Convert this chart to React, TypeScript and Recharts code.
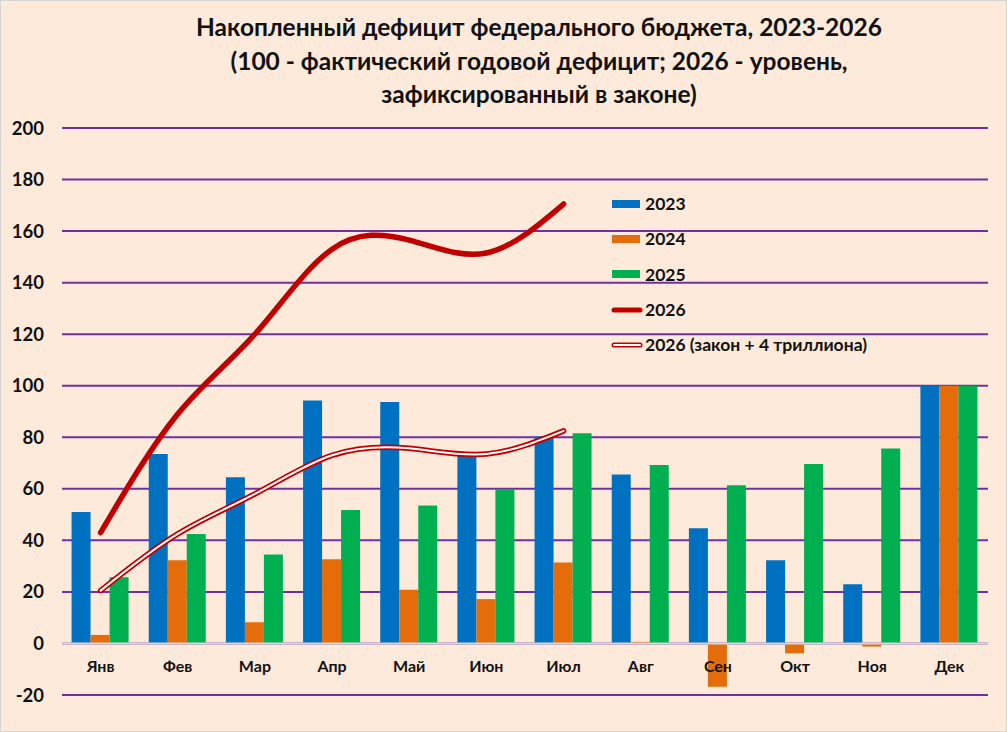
import { ComposedChart, Bar, Line, XAxis, YAxis, CartesianGrid, ReferenceLine } from 'recharts';

const months = ['Янв', 'Фев', 'Мар', 'Апр', 'Май', 'Июн', 'Июл', 'Авг', 'Сен', 'Окт', 'Ноя', 'Дек'];
const d2023 = [51, 73.5, 64.5, 94.3, 93.7, 72.7, 80.3, 65.6, 44.7, 32.3, 23, 100];
const d2024 = [3.3, 32.3, 8.2, 32.7, 20.8, 17.2, 31.4, 0.6, -16.8, -3.8, -1.2, 100];
const d2025 = [25.7, 42.5, 34.5, 51.8, 53.5, 59.9, 81.6, 69.2, 61.4, 69.6, 75.6, 100];
const d2026 = [43, 89, 120, 153, 156.5, 151.5, 170.5, null, null, null, null, null];
const d2026law = [20.5, 42.5, 58, 73, 75.7, 73.5, 82.5, null, null, null, null, null];
const yTicks = [-20, 0, 20, 40, 60, 80, 100, 120, 140, 160, 180, 200];

const data = months.map((m, i) => ({
    name: m,
    y2023: d2023[i],
    y2024: d2024[i],
    y2025: d2025[i],
    y2026: d2026[i],
    law: d2026law[i],
}));

const FONT = 'Lato, "Open Sans", sans-serif';

const legendItems = [
    { label: '2023', kind: 'bar', color: '#0070C0' },
    { label: '2024', kind: 'bar', color: '#E46C0A' },
    { label: '2025', kind: 'bar', color: '#00B050' },
    { label: '2026', kind: 'line', color: '#C00000' },
    { label: '2026 (закон + 4 триллиона)', kind: 'double', color: '#C00000' },
];

function MonthTick(props: any) {
    const { x, y, payload } = props;
    return (
        <text x={x} y={y} dy={-31} textAnchor="middle" fill="#111" fontSize={16} fontWeight={700} fontFamily={FONT}>
            {payload.value}
        </text>
    );
}

export default function App() {
    return (
        <div
            style={{
                position: 'relative',
                width: 1007,
                height: 732,
                boxSizing: 'border-box',
                border: '1px solid #D4D4D4',
                background: '#FDEADA',
                fontFamily: FONT,
            }}
        >
            <style>{'body{margin:0}'}</style>
            <div
                style={{
                    position: 'absolute',
                    left: 0,
                    width: 1076,
                    top: 9,
                    textAlign: 'center',
                    fontSize: 24.5,
                    fontWeight: 700,
                    lineHeight: '33.5px',
                    color: '#111',
                }}
            >
                Накопленный дефицит федерального бюджета, 2023-2026
                <br />
                (100 - фактический годовой дефицит; 2026 - уровень,
                <br />
                зафиксированный в законе)
            </div>
            <ComposedChart
                width={1005}
                height={730}
                data={data}
                margin={{ top: 127, right: 18, bottom: 0, left: 0 }}
                barCategoryGap="12.4%"
                barGap={0}
            >
                <CartesianGrid vertical={false} stroke="#7030A0" strokeWidth={2} />
                <XAxis
                    dataKey="name"
                    axisLine={false}
                    tickLine={false}
                    height={36}
                    interval={0}
                    tick={<MonthTick />}
                />
                <YAxis
                    domain={[-20, 200]}
                    ticks={yTicks}
                    width={61}
                    axisLine={false}
                    tickLine={false}
                    tickMargin={12}
                    tick={{ fill: '#111', fontSize: 18.5, fontWeight: 700, fontFamily: FONT }}
                />
                <ReferenceLine y={0} stroke="#D9D9D9" strokeWidth={2} />
                <Bar dataKey="y2023" fill="#0070C0" isAnimationActive={false} />
                <Bar dataKey="y2024" fill="#E46C0A" isAnimationActive={false} />
                <Bar dataKey="y2025" fill="#00B050" isAnimationActive={false} />
                <Line
                    dataKey="y2026"
                    type="natural"
                    stroke="#C00000"
                    strokeWidth={5.5}
                    strokeLinecap="round"
                    dot={false}
                    isAnimationActive={false}
                />
                <Line
                    dataKey="law"
                    type="natural"
                    stroke="#C00000"
                    strokeWidth={5.5}
                    strokeLinecap="round"
                    dot={false}
                    isAnimationActive={false}
                />
                <Line
                    dataKey="law"
                    type="natural"
                    stroke="#FFFFFF"
                    strokeWidth={2}
                    strokeLinecap="round"
                    dot={false}
                    isAnimationActive={false}
                />
            </ComposedChart>
            <div style={{ position: 'absolute', left: 610, top: 185 }}>
                {legendItems.map((it) => (
                    <div key={it.label} style={{ display: 'flex', alignItems: 'center', height: 35.3 }}>
                        <svg width={32} height={10} style={{ marginRight: 2 }}>
                            {it.kind === 'bar' && <rect x={1} y={1} width={28} height={8} fill={it.color} />}
                            {it.kind === 'line' && (
                                <line x1={3} y1={5} x2={29} y2={5} stroke={it.color} strokeWidth={5} strokeLinecap="round" />
                            )}
                            {it.kind === 'double' && (
                                <>
                                    <line x1={3} y1={5} x2={29} y2={5} stroke={it.color} strokeWidth={5} strokeLinecap="round" />
                                    <line x1={3} y1={5} x2={29} y2={5} stroke="#fff" strokeWidth={2} strokeLinecap="round" />
                                </>
                            )}
                        </svg>
                        <span style={{ fontSize: 17.5, fontWeight: 700, color: '#111' }}>{it.label}</span>
                    </div>
                ))}
            </div>
        </div>
    );
}
